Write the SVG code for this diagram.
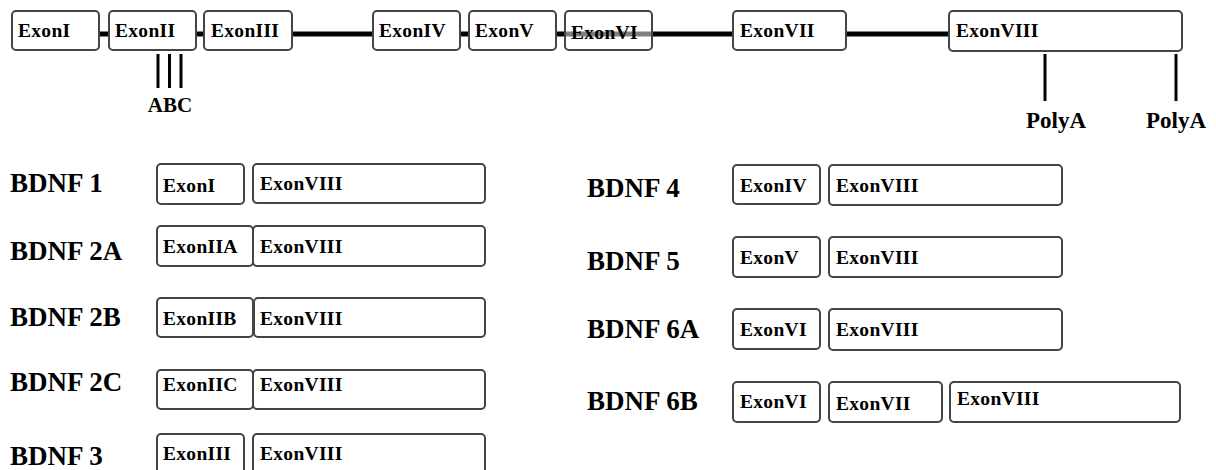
<svg xmlns="http://www.w3.org/2000/svg" width="1216" height="470" viewBox="0 0 1216 470">
<style>
.bx{fill:#fff;stroke:#444;stroke-width:2}
.t{font-family:"Liberation Serif","Times New Roman",serif;font-weight:bold;font-size:19.5px;fill:#000;letter-spacing:0.3px}
.lb{font-family:"Liberation Serif","Times New Roman",serif;font-weight:bold;font-size:27px;fill:#000}
.pa{font-family:"Liberation Serif","Times New Roman",serif;font-weight:bold;font-size:23px;fill:#000;text-anchor:middle}
.ln{stroke:#000;stroke-width:5;fill:none}
.tk{stroke:#000;stroke-width:3;fill:none}
</style>
<rect width="1216" height="470" fill="#fff"/>
<g id="connectors">
<line class="ln" x1="99" y1="34" x2="949" y2="34"/>
<line class="tk" x1="158" y1="54" x2="158" y2="88"/>
<line class="tk" x1="169.5" y1="54" x2="169.5" y2="88"/>
<line class="tk" x1="181" y1="54" x2="181" y2="88"/>
<line class="tk" x1="1045" y1="54" x2="1045" y2="101"/>
<line class="tk" x1="1176" y1="54" x2="1176" y2="101"/>
</g>
<g id="gene">
<g id="g-exon1"><rect class="bx" x="12" y="11" width="87" height="39" rx="4"/><text class="t" x="18" y="37">ExonI</text></g>
<g id="g-exon2"><rect class="bx" x="109" y="11" width="87" height="39" rx="4"/><text class="t" x="115" y="37">ExonII</text></g>
<g id="g-exon3"><rect class="bx" x="204" y="11" width="88" height="39" rx="4"/><text class="t" x="211" y="37">ExonIII</text></g>
<g id="g-exon4"><rect class="bx" x="373" y="11" width="87" height="39" rx="4"/><text class="t" x="379" y="37">ExonIV</text></g>
<g id="g-exon5"><rect class="bx" x="469" y="11" width="87" height="39" rx="4"/><text class="t" x="475" y="37">ExonV</text></g>
<g id="g-exon6"><rect x="565" y="11" width="87" height="39" rx="4" fill="#fff" fill-opacity="0.5" stroke="#444" stroke-width="2"/><text class="t" x="571" y="39">ExonVI</text></g>
<g id="g-exon7"><rect class="bx" x="733" y="11" width="113" height="39" rx="4"/><text class="t" x="740" y="37">ExonVII</text></g>
<g id="g-exon8"><rect class="bx" x="949" y="11" width="233" height="40" rx="4"/><text class="t" x="956" y="37">ExonVIII</text></g>
<text class="t" x="170" y="112" style="font-size:21px;text-anchor:middle;letter-spacing:0">ABC</text>
<text class="pa" x="1056" y="128">PolyA</text>
<text class="pa" x="1176" y="128">PolyA</text>
</g>
<g id="bdnf1"><text class="lb" x="10" y="192">BDNF 1</text>
<rect class="bx" x="157" y="164" width="87" height="40" rx="4"/><text class="t" x="163" y="192">ExonI</text>
<rect class="bx" x="253" y="164" width="232" height="39" rx="4"/><text class="t" x="260" y="190">ExonVIII</text></g>
<g id="bdnf2a"><text class="lb" x="10" y="260">BDNF 2A</text>
<rect class="bx" x="157" y="226" width="96" height="40" rx="4"/><text class="t" x="163" y="253">ExonIIA</text>
<rect class="bx" x="253" y="226" width="232" height="40" rx="4"/><text class="t" x="260" y="253">ExonVIII</text></g>
<g id="bdnf2b"><text class="lb" x="10" y="326">BDNF 2B</text>
<rect class="bx" x="157" y="298" width="96" height="39" rx="4"/><text class="t" x="163" y="325">ExonIIB</text>
<rect class="bx" x="254" y="298" width="231" height="39" rx="4"/><text class="t" x="260" y="325">ExonVIII</text></g>
<g id="bdnf2c"><text class="lb" x="10" y="391">BDNF 2C</text>
<rect class="bx" x="157" y="370" width="96" height="39" rx="4"/><text class="t" x="163" y="391">ExonIIC</text>
<rect class="bx" x="253" y="370" width="232" height="39" rx="4"/><text class="t" x="260" y="391">ExonVIII</text></g>
<g id="bdnf3"><text class="lb" x="10" y="465">BDNF 3</text>
<rect class="bx" x="157" y="434" width="87" height="40" rx="4"/><text class="t" x="163" y="460">ExonIII</text>
<rect class="bx" x="253" y="434" width="232" height="40" rx="4"/><text class="t" x="260" y="460">ExonVIII</text></g>
<g id="bdnf4"><text class="lb" x="587" y="197">BDNF 4</text>
<rect class="bx" x="733" y="165" width="87" height="39" rx="4"/><text class="t" x="740" y="192">ExonIV</text>
<rect class="bx" x="829" y="165" width="233" height="40" rx="4"/><text class="t" x="836" y="192">ExonVIII</text></g>
<g id="bdnf5"><text class="lb" x="587" y="270">BDNF 5</text>
<rect class="bx" x="733" y="237" width="87" height="40" rx="4"/><text class="t" x="740" y="264">ExonV</text>
<rect class="bx" x="829" y="237" width="233" height="40" rx="4"/><text class="t" x="836" y="264">ExonVIII</text></g>
<g id="bdnf6a"><text class="lb" x="587" y="338">BDNF 6A</text>
<rect class="bx" x="733" y="309" width="87" height="40" rx="4"/><text class="t" x="740" y="336">ExonVI</text>
<rect class="bx" x="829" y="309" width="233" height="41" rx="4"/><text class="t" x="836" y="336">ExonVIII</text></g>
<g id="bdnf6b"><text class="lb" x="587" y="410">BDNF 6B</text>
<rect class="bx" x="733" y="382" width="87" height="40" rx="4"/><text class="t" x="740" y="408">ExonVI</text>
<rect class="bx" x="829" y="382" width="113" height="40" rx="4"/><text class="t" x="836" y="410">ExonVII</text>
<rect class="bx" x="950" y="382" width="230" height="40" rx="4"/><text class="t" x="957" y="405">ExonVIII</text></g>
</svg>
